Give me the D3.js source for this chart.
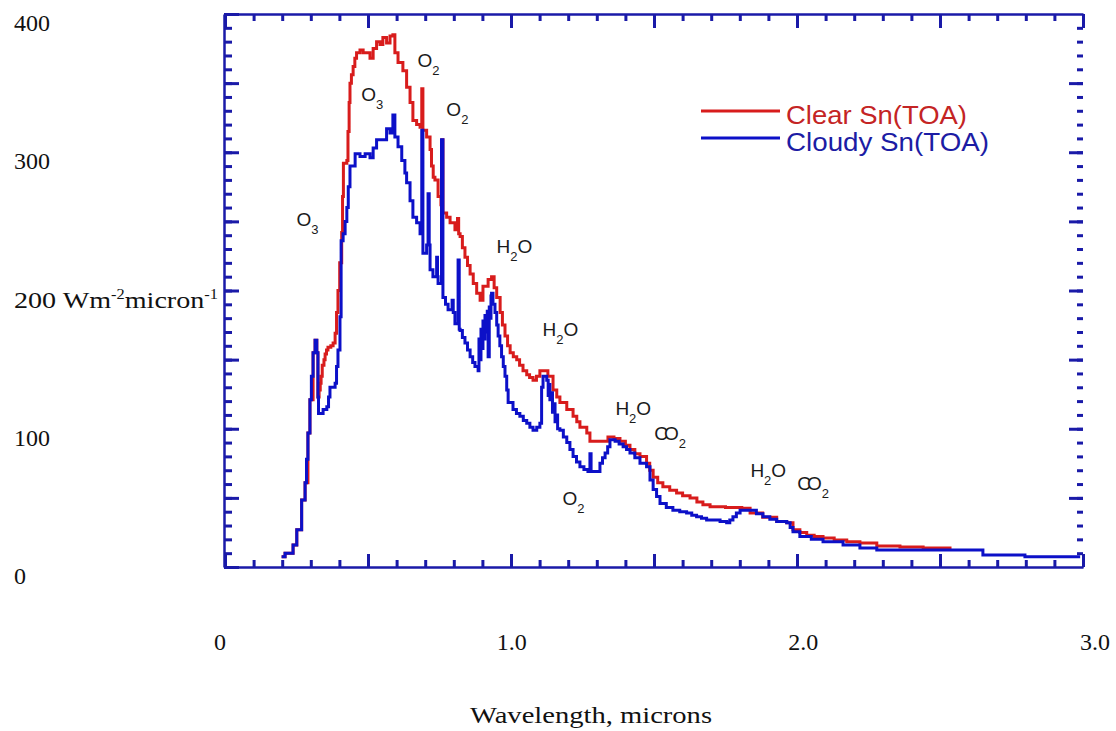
<!DOCTYPE html>
<meta charset="utf-8">
<script src="https://d3js.org/d3.v7.min.js"></script>
<style>
  *{margin:0;padding:0;}
  body{background:#fff;}
  .tlabel{font-family:"Liberation Serif",serif;font-size:24px;fill:#111;}
  .ann{font-family:"Liberation Sans",Arial,sans-serif;font-size:19px;fill:#1a1a1a;}
  .ann .sub{font-size:13px;}
  .legend{font-family:"Liberation Sans",Arial,sans-serif;font-size:25px;}
  .axis path,.axis line{stroke:#1a1aa8;}
</style>
<body>
<div id="chart"></div>
<script>
// Clear sky spectrum (wavelength in microns, Wm-2micron-1)
var clearSpectrum = [
  [0.198,7.5],[0.210,10],[0.238,16],[0.251,27],[0.268,48.5],[0.280,61],[0.290,97],[0.297,121],[0.308,155],
  [0.315,164],[0.321,155],[0.325,123],[0.329,128],[0.333,133],[0.336,138],[0.340,146],[0.346,150],[0.350,154],
  [0.355,157],[0.360,159],[0.370,160],[0.378,162],[0.385,169],[0.390,184],[0.395,200],[0.401,220],
  [0.408,242],[0.411,268],[0.414,292],[0.426,294],[0.430,315],[0.434,336],[0.437,350],[0.442,356],[0.448,362],
  [0.454,368],[0.460,372],[0.472,374],[0.483,372],[0.495,372],
  [0.507,368],[0.518,375],[0.530,380],[0.542,378],[0.552,383],[0.565,379],[0.577,384],[0.587,385],[0.594,372],[0.605,365],
  [0.622,359],[0.635,347],[0.647,336],[0.657,323],[0.670,320],[0.682,318],[0.688,346],[0.692,316],[0.705,311],
  [0.717,302],[0.722,290],[0.728,282],[0.734,280],[0.745,268],[0.755,262],[0.759,309],[0.762,256],[0.775,253],
  [0.787,249],[0.804,244],[0.813,252],[0.817,241],[0.822,239],[0.830,231],[0.839,224],[0.848,218],[0.857,212],
  [0.868,205],[0.880,198],[0.892,193],
  [0.902,203],[0.920,208],[0.932,210],[0.941,202],[0.950,195],[0.962,184],[0.970,175],[0.979,167],[0.988,160],
  [0.997,155],[1.008,152],[1.020,150],[1.030,146],[1.042,142],[1.055,139],[1.065,137],
  [1.077,135],[1.089,138],[1.101,142],[1.119,142],[1.129,138],[1.147,128],[1.160,123],[1.171,119],[1.195,114],[1.217,109],[1.230,105],[1.241,101],
  [1.265,97],[1.276,91],[1.329,91],[1.339,94],[1.360,93],[1.381,91],[1.400,88],[1.416,85],[1.433,82],[1.451,80],[1.474,75],[1.485,70],[1.497,65],[1.513,61],[1.531,58],
  [1.555,55.5],[1.579,53.5],[1.600,51.5],[1.626,50],[1.650,47],[1.671,45],[1.696,43.6],[1.750,43],[1.807,42.5],[1.836,39],
  [1.880,36],[1.929,33],[1.964,32],[1.986,27],[2.010,25],
  [2.034,23],[2.060,22],[2.091,21],[2.130,19.5],[2.174,18.3],[2.220,17.4],[2.279,15.2],[2.360,14.5],[2.441,13.7],[2.535,12.3]
];

// Cloudy sky spectrum
var cloudySpectrum = [
  [0.198,7.5],[0.210,10],[0.238,16],[0.251,27],[0.268,48.5],[0.280,61],[0.285,78],[0.290,97],[0.297,121],[0.302,138],[0.308,155],
  [0.315,164],[0.321,155],[0.325,123],[0.327,111],[0.343,114],[0.356,116],[0.362,123],[0.367,130],[0.385,133],[0.390,145],[0.395,157],
  [0.402,181],[0.406,236],[0.413,241],[0.420,250],[0.426,260],[0.431,275],[0.437,290],[0.455,299],[0.472,297],[0.490,299],[0.507,296],
  [0.518,303],[0.530,309],[0.552,309],[0.565,317],[0.577,314],[0.587,327],[0.594,311],[0.605,304],[0.618,294],[0.629,285],
  [0.635,278],[0.647,265],[0.657,253],[0.670,249],[0.682,241],[0.688,316],[0.692,227],[0.705,233],[0.710,270],
  [0.714,233],[0.717,215],[0.727,210],[0.740,224],[0.743,210],[0.745,205],[0.757,309],[0.762,195],[0.771,190],[0.780,186],
  [0.794,193],[0.798,184],[0.804,176],[0.815,222],[0.819,172],[0.822,171],[0.830,166],[0.839,162],[0.848,157],[0.857,152],[0.866,148],[0.874,145],
  [0.885,142],[0.888,165],[0.892,150],[0.895,172],[0.899,158],[0.902,178],[0.906,165],[0.909,182],[0.913,170],
  [0.917,185],[0.920,152],[0.924,188],[0.927,180],[0.930,196],[0.932,198],[0.937,190],[0.944,184],[0.950,175],[0.955,167],
  [0.961,160],[0.967,152],[0.973,145],[0.979,138],[0.985,128],[0.990,119],[1.007,114],[1.019,111],[1.031,109],[1.043,106],[1.055,104],[1.066,101],[1.077,99],[1.090,101],[1.101,104],[1.107,130],
  [1.112,138],[1.125,135],[1.130,124],[1.133,132],[1.136,121],[1.140,126],[1.145,112],[1.149,118],[1.154,105],
  [1.158,110],[1.163,100],[1.171,99],[1.183,94],[1.195,90],[1.206,85],[1.217,80],[1.229,76],[1.241,72.5],[1.255,70.5],[1.269,69],[1.276,82],[1.280,69],
  [1.300,69],[1.311,75],[1.320,79],[1.329,82.5],[1.338,87],[1.346,92],[1.364,91],[1.378,89],[1.392,87],[1.404,85],[1.416,82.5],[1.433,79],[1.451,75],[1.474,72.5],
  [1.486,63],[1.497,56],[1.509,51],[1.521,46],[1.543,43],[1.566,41],[1.590,40],[1.614,39],[1.632,37.5],[1.649,36.4],[1.666,35.2],[1.684,34],[1.731,33],[1.754,32],
  [1.765,34],[1.776,36.4],[1.788,39],[1.801,41],[1.836,41],[1.858,38.6],[1.881,36.4],[1.905,34.6],[1.929,33],[1.964,32],[1.976,28.5],[1.986,25.5],[2.010,22],[2.050,20],[2.091,18.3],
  [2.161,16],[2.220,13.7],[2.279,12.3],[2.650,8.7],[2.797,7.5],[2.990,7.5]
];

var xTickValues = [0, 1, 2, 3];
var xTickLabels = ["0", "1.0", "2.0", "3.0"];
var yTickValues = [0, 100, 200, 300, 400];
var yTickLabels = ["0", "100", "200", "300", "400"];

// absorber labels: main text, subscript, tail text, position in data units
var absorbers = [
  {t:"O",  s:"3", e:"",  x:0.250, y:247},
  {t:"O",  s:"3", e:"",  x:0.476, y:337},
  {t:"O",  s:"2", e:"",  x:0.673, y:362},
  {t:"O",  s:"2", e:"",  x:0.774, y:326},
  {t:"H",  s:"2", e:"O", x:0.949, y:227},
  {t:"H",  s:"2", e:"O", x:1.110, y:167},
  {t:"H",  s:"2", e:"O", x:1.365, y:110},
  {t:"CO", s:"2", e:"",  x:1.501, y:92},
  {t:"O",  s:"2", e:"",  x:1.180, y:45},
  {t:"H",  s:"2", e:"O", x:1.837, y:65},
  {t:"CO", s:"2", e:"",  x:2.001, y:56}
];

var seriesNames = ["Clear Sn(TOA)", "Cloudy Sn(TOA)"];

var W = 1116, H = 731;
var svg = d3.select("#chart").append("svg")
  .attr("width", W).attr("height", H);

var x = d3.scaleLinear().domain([0, 3]).range([225, 1083]);
var y = d3.scaleLinear().domain([0, 400]).range([567, 14]);
// tick labels in the original sit on a slightly wider spacing
var xLab = d3.scaleLinear().domain([0, 3]).range([220, 1095]);

function styleAxis(g, sw) {
  g.attr("class", "axis");
  g.selectAll(".tick line").attr("stroke-width", sw);
  g.selectAll("text").remove();
}

// bottom axis (ticks inside)
svg.append("g").attr("transform", "translate(0,567)")
  .call(d3.axisTop(x).tickValues(d3.range(0, 3.001, 0.1)).tickSize(7).tickSizeOuter(0))
  .call(styleAxis, 3)
  .select(".domain").attr("stroke-width", 2.5);
svg.append("g").attr("transform", "translate(0,567)")
  .call(d3.axisTop(x).tickValues(d3.range(0, 3.001, 0.5)).tickSize(13).tickSizeOuter(0))
  .call(styleAxis, 3);

// top axis
svg.append("g").attr("transform", "translate(0,14)")
  .call(d3.axisBottom(x).tickValues(d3.range(0, 3.001, 0.1)).tickSize(7).tickSizeOuter(0))
  .call(styleAxis, 3)
  .select(".domain").attr("stroke-width", 2.5);
svg.append("g").attr("transform", "translate(0,14)")
  .call(d3.axisBottom(x).tickValues(d3.range(0, 3.001, 0.5)).tickSize(14).tickSizeOuter(0))
  .call(styleAxis, 3);

// left axis
svg.append("g").attr("transform", "translate(224,0)")
  .call(d3.axisRight(y).tickValues(d3.range(0, 401, 10)).tickSize(8).tickSizeOuter(0))
  .call(styleAxis, 3)
  .select(".domain").attr("stroke-width", 2.5);
svg.append("g").attr("transform", "translate(224,0)")
  .call(d3.axisRight(y).tickValues(d3.range(0, 401, 50)).tickSize(15).tickSizeOuter(0))
  .call(styleAxis, 3);

// right axis: ticks only, no line
svg.append("g").attr("transform", "translate(1083,0)")
  .call(d3.axisLeft(y).tickValues(d3.range(10, 400, 10)).tickSize(6).tickSizeOuter(0))
  .call(styleAxis, 3)
  .select(".domain").remove();
svg.append("g").attr("transform", "translate(1083,0)")
  .call(d3.axisLeft(y).tickValues(d3.range(50, 400, 50)).tickSize(14).tickSizeOuter(0))
  .call(styleAxis, 3)
  .select(".domain").remove();

// tick labels
svg.selectAll(".xlab").data(xTickValues).enter().append("text")
  .attr("class", "tlabel")
  .attr("x", function(d) { return xLab(d); })
  .attr("y", 650)
  .attr("text-anchor", "middle")
  .text(function(d, i) { return xTickLabels[i]; });

var ylab = svg.selectAll(".ylab").data(yTickValues).enter().append("text")
  .attr("class", "tlabel")
  .attr("x", 14)
  .attr("y", function(d) { return y(d) + 17; })
  .text(function(d, i) { return yTickLabels[i]; });

// units next to 200
ylab.filter(function(d) { return d === 200; }).each(function() {
  var t = d3.select(this);
  t.text(null);
  t.append("tspan").text("200 Wm");
  t.append("tspan").attr("font-size", "14px").attr("dy", -9).text("-2");
  t.append("tspan").attr("dy", 9).text("micron");
  t.append("tspan").attr("font-size", "14px").attr("dy", -9).text("-1");
  t.attr("textLength", 204).attr("lengthAdjust", "spacingAndGlyphs");
});

svg.append("text")
  .attr("class", "tlabel")
  .attr("x", 591).attr("y", 723)
  .attr("text-anchor", "middle")
  .attr("textLength", 242).attr("lengthAdjust", "spacingAndGlyphs")
  .text("Wavelength, microns");

// spectra, drawn as histogram-style steps
var line = d3.line()
  .x(function(d) { return x(d[0]); })
  .y(function(d) { return y(d[1]); })
  .curve(d3.curveStepAfter);

svg.append("path").datum(clearSpectrum)
  .attr("d", line)
  .attr("fill", "none")
  .attr("stroke", "#d81c1c")
  .attr("stroke-width", 3);

svg.append("path").datum(cloudySpectrum)
  .attr("d", line)
  .attr("fill", "none")
  .attr("stroke", "#0c10c8")
  .attr("stroke-width", 3);

// absorber labels
var ann = svg.selectAll(".ann").data(absorbers).enter().append("text")
  .attr("class", "ann")
  .attr("x", function(d) { return x(d.x); })
  .attr("y", function(d) { return y(d.y); });
ann.append("tspan")
  .attr("letter-spacing", function(d) { return d.t === "CO" ? "-4px" : null; })
  .text(function(d) { return d.t; });
ann.append("tspan").attr("class", "sub").attr("dy", 8).attr("dx", function(d) { return d.t === "CO" ? 4 : 0; })
  .text(function(d) { return d.s; });
ann.filter(function(d) { return d.e; }).append("tspan").attr("dy", -8)
  .text(function(d) { return d.e; });

// legend
var legColors = ["#d81c1c", "#0c10c8"];
var legText = ["#c42424", "#1c1ca4"];
var leg = svg.append("g");
seriesNames.forEach(function(name, i) {
  var ly = 111 + i * 27;
  leg.append("line")
    .attr("x1", 701).attr("x2", 780).attr("y1", ly).attr("y2", ly)
    .attr("stroke", legColors[i]).attr("stroke-width", 3);
  leg.append("text")
    .attr("class", "legend")
    .attr("x", 786).attr("y", ly + 6)
    .attr("dominant-baseline", "middle")
    .attr("fill", legText[i])
    .attr("textLength", i === 0 ? 181 : 203).attr("lengthAdjust", "spacingAndGlyphs")
    .text(name);
});
</script>
</body>
